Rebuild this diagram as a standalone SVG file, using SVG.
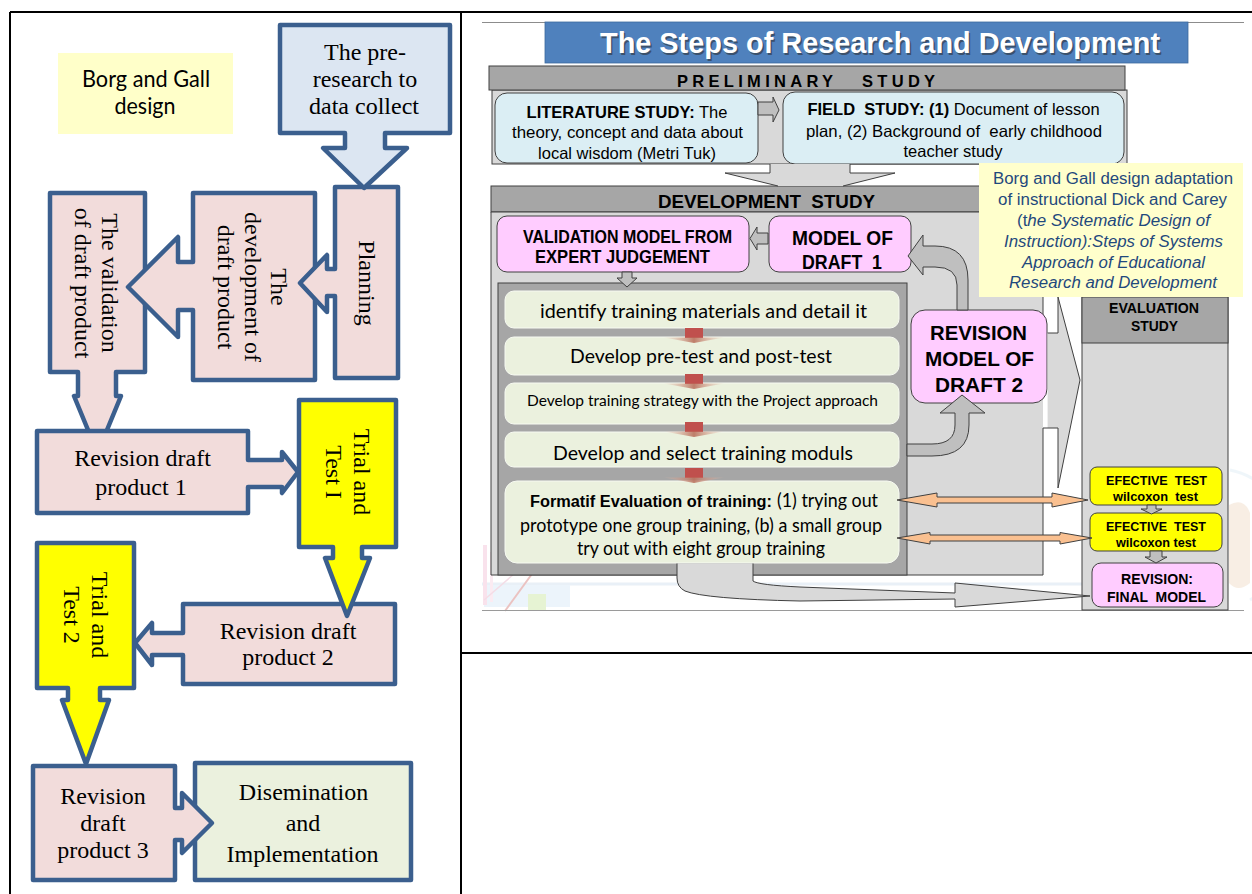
<svg xmlns="http://www.w3.org/2000/svg" width="1252" height="894" viewBox="0 0 1252 894">
<defs>
<style>
.frame{stroke:#000;stroke-width:2;fill:none}
.blk{stroke:#3b5f8e;stroke-width:4.5;stroke-linejoin:round}
.pink{fill:#f2dcdb}
.lblue{fill:#dce6f2}
.yel{fill:#ffff00}
.lgreen{fill:#ebf1de}
.tr{font-family:"Liberation Serif","Times New Roman",serif;font-size:24px;fill:#000;text-anchor:middle}
.ar{font-family:"Liberation Sans",Arial,sans-serif;fill:#000}
.b{font-weight:bold}
.i{font-style:italic}
.mid{text-anchor:middle}
.cal{font-family:Lato,"Liberation Sans",sans-serif;fill:#000}
.edge{stroke:#404040;stroke-width:1}
.g1{fill:#d9d9d9}
.g2{fill:#a6a6a6}
.g3{fill:#bfbfbf}
.pk{fill:#ffccff}
.lb{fill:#dbeef4}
.gb{fill:#ebf1de;stroke:#f7faf2;stroke-width:1}
.or{fill:#fac090;stroke:#404040;stroke-width:1}
.note{fill:#1f497d}
</style>
<linearGradient id="chev" x1="0" x2="1" y1="0" y2="0">
<stop offset="0" stop-color="#e8c2b2" stop-opacity="0.15"/>
<stop offset="0.5" stop-color="#b9705c" stop-opacity="0.9"/>
<stop offset="1" stop-color="#e8c2b2" stop-opacity="0.15"/>
</linearGradient>
<g id="drop">
<rect x="-9" y="0" width="18" height="10" fill="#c0504d"/>
<polygon points="-30,9.5 30,9.5 0,15" fill="url(#chev)"/>
</g>
</defs>

<rect width="1252" height="894" fill="#fff"/>

<!-- table frame -->
<path class="frame" d="M10,12 H1252 M10,12 V894 M461,12 V894 M461,653 H1252"/>

<!-- ================= left panel: Borg and Gall steps ================= -->
<g id="borg-gall-label">
<rect x="58" y="53" width="175" height="81" fill="#ffffc9"/>
<text class="cal mid" font-size="22.5" x="146" y="87" textLength="128" lengthAdjust="spacingAndGlyphs">Borg and Gall</text>
<text class="cal mid" font-size="22.5" x="145" y="114" textLength="61" lengthAdjust="spacingAndGlyphs">design</text>
</g>

<g id="validation">
<path class="blk pink" d="M50,193 H145 V372 H116 V396 H121 L97.5,453 L74,396 H78 V372 H50 Z"/>
<text class="tr" font-size="23" transform="translate(102,283) rotate(90)">The validation</text>
<text class="tr" font-size="23" transform="translate(75,283) rotate(90)">of draft product</text>
</g>

<g id="development">
<path class="blk pink" d="M193,193 H315 V380 H193 V310 H178 V337 L128,287 L178,237 V262 H193 Z"/>
<text class="tr" transform="translate(271,287) rotate(90)">The</text>
<text class="tr" transform="translate(244.5,287) rotate(90)">development of</text>
<text class="tr" transform="translate(218,287) rotate(90)">draft product</text>
</g>

<g id="planning">
<path class="blk pink" d="M335,187 H398 V378 H335 V296 H327 V312 L300,283 L327,255 V269 H335 Z"/>
<text class="tr" transform="translate(359,283) rotate(90)">Planning</text>
</g>

<g id="pre-research">
<path class="blk lblue" d="M280,25 H450 V133 H385 V148 H407 L364,188 L323,148 H345 V133 H280 Z"/>
<text class="tr" x="365" y="60">The pre-</text>
<text class="tr" x="365" y="87">research to</text>
<text class="tr" x="364" y="114">data collect</text>
</g>

<g id="revision-1">
<path class="blk pink" d="M37,431 H248 V460 H282 V452 L298,472 L282,493 V487 H248 V513 H37 Z"/>
<text class="tr" x="142.5" y="466">Revision draft</text>
<text class="tr" x="141" y="495">product 1</text>
</g>

<g id="revision-2">
<path class="blk pink" d="M183,604 H395 V684 H183 V655 H152 V665 L135,643 L152,623 V633 H183 Z"/>
<text class="tr" x="288" y="639">Revision draft</text>
<text class="tr" x="288" y="665">product 2</text>
</g>

<g id="trial-1">
<path class="blk yel" d="M299,400 H396 V547 H362 V558 H370 L347,616 L325,558 H333 V547 H299 Z"/>
<text class="tr" transform="translate(354,472) rotate(90)">Trial and</text>
<text class="tr" transform="translate(326,472) rotate(90)">Test I</text>
</g>

<g id="trial-2">
<path class="blk yel" d="M37,543 H134 V688 H100 V700 H109 L86,764 L62,700 H68 V688 H37 Z"/>
<text class="tr" transform="translate(92,615) rotate(90)">Trial and</text>
<text class="tr" transform="translate(64,615) rotate(90)">Test 2</text>
</g>

<g id="dissemination">
<rect class="blk lgreen" x="195" y="763" width="216" height="117"/>
<text class="tr" font-size="26.5" x="303.5" y="800">Disemination</text>
<text class="tr" font-size="26.5" x="303" y="831">and</text>
<text class="tr" font-size="26.5" x="302.5" y="862">Implementation</text>
</g>

<g id="revision-3">
<path class="blk pink" d="M33,766 H175 V808 H182 V793 L212,823 L182,853 V840 H175 V880 H33 Z"/>
<text class="tr" font-size="23.5" x="103" y="804">Revision</text>
<text class="tr" font-size="23.5" x="103" y="831">draft</text>
<text class="tr" font-size="23.5" x="103" y="858">product 3</text>
</g>

<!-- ================= right panel: steps of R&D ================= -->
<g id="backdrop" opacity="0.45">
<line x1="482" y1="584" x2="1082" y2="584" stroke="#cfe0ee" stroke-width="3"/>
<rect x="484" y="585" width="86" height="22" fill="#d6e8f7"/>
<rect x="483" y="545" width="4" height="60" fill="#f3c0d6"/>
<rect x="490" y="552" width="3" height="50" fill="#f7d3e3"/>
<rect x="528" y="594" width="18" height="16" fill="#c8e6a0"/>
<line x1="505" y1="611" x2="545" y2="556" stroke="#d47a78" stroke-width="2"/>
<line x1="484" y1="600" x2="530" y2="560" stroke="#e7b3c8" stroke-width="1.5"/>
</g>
<g id="corner-art" opacity="0.3">
<path d="M1230,470 A70,70 0 0 1 1250,600" fill="none" stroke="#cde3f1" stroke-width="3"/>
<path d="M1229,505 q15,-8 21,8 v70 q-12,10 -21,0 Z" fill="#e9c9a8"/>
</g>
<line x1="482" y1="22.5" x2="1244" y2="22.5" stroke="#8c8c8c" stroke-width="1"/>
<line x1="482" y1="610.5" x2="1244" y2="610.5" stroke="#9a9a9a" stroke-width="1"/>

<g id="title">
<rect x="545" y="22" width="643" height="41" fill="#4f81bd" stroke="#3d6a9e" stroke-width="0.8"/>
<text class="ar b mid" x="881.5" y="54.5" font-size="30" opacity="0.55" textLength="560" lengthAdjust="spacingAndGlyphs" style="fill:#2b2b2b">The Steps of Research and Development</text>
<text class="ar b mid" x="880" y="53" font-size="30" textLength="560" lengthAdjust="spacingAndGlyphs" style="fill:#fff">The Steps of Research and Development</text>
</g>

<g id="preliminary-study">
<rect class="g1 edge" x="492" y="90" width="635" height="74"/>
<rect class="g2 edge" x="489" y="66" width="636" height="24"/>
<text class="ar b" x="677" y="87" font-size="16.5" letter-spacing="4.3">PRELIMINARY</text>
<text class="ar b" x="862" y="87" font-size="16.5" letter-spacing="4.3">STUDY</text>
</g>

<g id="literature-study">
<rect class="lb edge" x="495" y="93" width="263" height="70" rx="12"/>
<text class="ar mid" x="627" y="118" font-size="16.5"><tspan class="b">LITERATURE STUDY:</tspan> The</text>
<text class="ar mid" x="627.5" y="138" font-size="16.5" textLength="231" lengthAdjust="spacingAndGlyphs">theory, concept and data about</text>
<text class="ar mid" x="627" y="159" font-size="16.5">local wisdom (Metri Tuk)</text>
</g>

<g id="field-study">
<rect class="lb edge" x="783" y="92" width="341" height="72" rx="12"/>
<text class="ar mid" x="953.5" y="115" font-size="16.5" xml:space="preserve"><tspan class="b">FIELD  STUDY: (1)</tspan> Document of lesson</text>
<text class="ar mid" x="954" y="137" font-size="16.5" xml:space="preserve" textLength="296" lengthAdjust="spacingAndGlyphs">plan, (2) Background of  early childhood</text>
<text class="ar mid" x="953" y="157" font-size="16.5">teacher study</text>
</g>

<g id="development-study">
<rect class="g2 edge" x="491" y="186" width="552" height="26"/>
<rect class="g1" x="491" y="212" width="552" height="363"/>
<path d="M1043,212 V333 M1043,428 V575 H491 V212 H1043" fill="none" stroke="#404040" stroke-width="1"/>
<text class="ar b" x="658" y="208" font-size="18" xml:space="preserve" textLength="217" lengthAdjust="spacingAndGlyphs">DEVELOPMENT  STUDY</text>
</g>

<g id="evaluation-study">
<rect class="g1 edge" x="1082" y="297" width="146" height="313"/>
<rect class="g2 edge" x="1082" y="297" width="146" height="46"/>
<text class="ar b mid" x="1154" y="313" font-size="15" textLength="90" lengthAdjust="spacingAndGlyphs">EVALUATION</text>
<text class="ar b mid" x="1154.5" y="331" font-size="15" textLength="47" lengthAdjust="spacingAndGlyphs">STUDY</text>
</g>

<g id="adaptation-note">
<rect x="979" y="163" width="264" height="134" fill="#ffffcc"/>
<text class="ar mid note" x="1113" y="184" font-size="16" textLength="240" lengthAdjust="spacingAndGlyphs">Borg and Gall design adaptation</text>
<text class="ar mid note" x="1112.5" y="205" font-size="16" textLength="229" lengthAdjust="spacingAndGlyphs">of instructional Dick and Carey</text>
<text class="ar mid note" x="1113.5" y="226" font-size="16" textLength="193" lengthAdjust="spacingAndGlyphs">(t<tspan class="i">he Systematic Design of</tspan></text>
<text class="ar mid note i" x="1113.5" y="247" font-size="16" textLength="219" lengthAdjust="spacingAndGlyphs">Instruction):Steps of Systems</text>
<text class="ar mid note i" x="1113.5" y="268" font-size="16" textLength="183" lengthAdjust="spacingAndGlyphs">Approach of Educational</text>
<text class="ar mid note i" x="1113" y="288" font-size="16" textLength="208" lengthAdjust="spacingAndGlyphs">Research and Development</text>
</g>

<g id="validation-model">
<rect class="pk edge" x="497" y="216" width="252" height="56" rx="10"/>
<text class="ar b mid" x="627.5" y="243" font-size="18" textLength="209" lengthAdjust="spacingAndGlyphs">VALIDATION MODEL FROM</text>
<text class="ar b mid" x="622.5" y="263" font-size="18" textLength="175" lengthAdjust="spacingAndGlyphs">EXPERT JUDGEMENT</text>
</g>

<g id="model-draft-1">
<rect class="pk edge" x="769" y="216" width="142" height="56" rx="10"/>
<text class="ar b mid" x="842.5" y="245" font-size="21" textLength="101" lengthAdjust="spacingAndGlyphs">MODEL OF</text>
<text class="ar b mid" x="842" y="269" font-size="21" xml:space="preserve" textLength="80" lengthAdjust="spacingAndGlyphs">DRAFT  1</text>
</g>

<g id="training-steps">
<rect class="g2 edge" x="498" y="283" width="409" height="292"/>
</g>

<g id="step-identify">
<rect class="gb" x="505" y="291" width="394" height="37" rx="9"/>
<text class="cal mid" x="703.5" y="318" font-size="20" textLength="327" lengthAdjust="spacingAndGlyphs">identify training materials and detail it</text>
</g>
<g id="step-tests">
<rect class="gb" x="505" y="337" width="394" height="38" rx="9"/>
<text class="cal mid" x="701" y="363" font-size="20" textLength="262" lengthAdjust="spacingAndGlyphs">Develop pre-test and post-test</text>
</g>
<g id="step-strategy">
<rect class="gb" x="505" y="383" width="394" height="41" rx="9"/>
<text class="cal mid" x="702.5" y="406" font-size="16" textLength="351" lengthAdjust="spacingAndGlyphs">Develop training strategy with the Project approach</text>
</g>
<g id="step-moduls">
<rect class="gb" x="505" y="432" width="394" height="35" rx="9"/>
<text class="cal mid" x="703" y="460" font-size="20" textLength="300" lengthAdjust="spacingAndGlyphs">Develop and select training moduls</text>
</g>
<g id="step-formatif">
<rect class="gb" x="505" y="481" width="394" height="82" rx="12"/>
<text class="ar b" x="530" y="507" font-size="16" textLength="242" lengthAdjust="spacingAndGlyphs">Formatif Evaluation of training:</text>
<text class="cal" x="777" y="507" font-size="18.5" textLength="101" lengthAdjust="spacingAndGlyphs">(1) trying out</text>
<text class="cal mid" x="701" y="532" font-size="18.5" textLength="362" lengthAdjust="spacingAndGlyphs">prototype one group training, (b) a small group</text>
<text class="cal mid" x="701" y="555" font-size="18.5" textLength="248" lengthAdjust="spacingAndGlyphs">try out with eight group training</text>
</g>

<g id="revision-model-draft-2">
<rect class="pk edge" x="911" y="310" width="136" height="93" rx="14"/>
<text class="ar b mid" x="978.5" y="340" font-size="21" textLength="97" lengthAdjust="spacingAndGlyphs">REVISION</text>
<text class="ar b mid" x="979.5" y="366" font-size="21" textLength="109" lengthAdjust="spacingAndGlyphs">MODEL OF</text>
<text class="ar b mid" x="979" y="392" font-size="21" textLength="88" lengthAdjust="spacingAndGlyphs">DRAFT 2</text>
</g>

<g id="effective-test-1">
<rect x="1090" y="467" width="132" height="38" rx="7" fill="#ffff00" stroke="#404040" stroke-width="1"/>
<text class="ar b mid" x="1156.5" y="485" font-size="13" xml:space="preserve" textLength="101" lengthAdjust="spacingAndGlyphs">EFECTIVE  TEST</text>
<text class="ar b mid" x="1155.5" y="501" font-size="13" xml:space="preserve" textLength="85" lengthAdjust="spacingAndGlyphs">wilcoxon  test</text>
</g>
<g id="effective-test-2">
<rect x="1090" y="513" width="132" height="38" rx="7" fill="#ffff00" stroke="#404040" stroke-width="1"/>
<text class="ar b mid" x="1156" y="531" font-size="13" xml:space="preserve" textLength="100" lengthAdjust="spacingAndGlyphs">EFECTIVE  TEST</text>
<text class="ar b mid" x="1156" y="547" font-size="13" textLength="80" lengthAdjust="spacingAndGlyphs">wilcoxon test</text>
</g>
<g id="final-model">
<rect class="pk edge" x="1092" y="563" width="131" height="44" rx="9"/>
<text class="ar b mid" x="1157" y="584" font-size="14.5" textLength="72" lengthAdjust="spacingAndGlyphs">REVISION:</text>
<text class="ar b mid" x="1156.5" y="602" font-size="14.5" xml:space="preserve" textLength="99" lengthAdjust="spacingAndGlyphs">FINAL  MODEL</text>
</g>

<!-- ================= connectors ================= -->
<g id="connectors">
<!-- preliminary to development -->
<polygon class="g1" points="770,164 770,173 725,173 778,186 843,186 895,173 850,173 850,164"/>
<polyline points="770,164 770,173 725,173 778,186" fill="none" stroke="#404040" stroke-width="1"/>
<polyline points="843,186 895,173 850,173 850,164" fill="none" stroke="#404040" stroke-width="1"/>
<!-- literature to field -->
<path class="g3 edge" d="M758,102 H773 V97 L779,110 L773,122 V115 H758 Z"/>
<!-- model of draft 1 to validation -->
<path class="g3 edge" d="M768,233 H757 V227 L750,238.5 L757,250 V244 H768 Z"/>
<!-- validation into training steps -->
<path class="g3 edge" d="M622,272 H632 V278 H637 L627,287 L617,278 H622 Z"/>
<!-- step drops -->
<use href="#drop" x="694" y="328"/>
<use href="#drop" x="694" y="374"/>
<use href="#drop" x="694" y="422"/>
<use href="#drop" x="694" y="468"/>
<!-- revision 2 back to model of draft 1 -->
<path class="g3 edge" d="M957,310 V285 Q957,267 935,267 H923 V275 L908,256 L923,235 V246 H935 Q968,246 968,280 V310 Z"/>
<!-- training moduls to revision 2 -->
<path class="g3 edge" d="M907,444 H932 Q955,444 955,425 V413 H940 L962,395 L985,413 H969 V425 Q969,456 932,456 H907 Z"/>
<!-- development to evaluation -->
<polygon class="g1" points="1047.6,333 1058,333 1058,297 1080,380 1058,488 1058,428 1047.6,428"/>
<polyline points="1047.6,333 1058,333 1058,297 1080,380 1058,488 1058,428 1043,428" fill="none" stroke="#404040" stroke-width="1"/>
<!-- formatif evaluation to effective tests -->
<path class="or" d="M897,500 L937,493 V497 H1052 V493 L1088,500 L1052,507 V503 H937 V507 Z"/>
<path class="or" d="M897,538 L930,532.5 V535 H1060 V532.5 L1092,538 L1060,544 V541 H930 V544 Z"/>
<!-- between effective tests and final model -->
<path class="g3 edge" d="M1147,505 H1156 V509 H1162 L1151.5,514 L1141,509 H1147 Z"/>
<path class="g3 edge" d="M1150,551 H1162 V557 H1167 L1156,563 L1145,557 H1150 Z"/>
<!-- formatif evaluation to final model -->
<path class="g1" d="M677,563.5 H753 V581 Q758,585 800,587 L955,593 V583 L1090,596 L955,607 V599 L800,601 Q705,599 685,591 Q677,587 677,578 Z"/>
<path d="M753,563.5 V581 Q758,585 800,587 L955,593 V583 L1090,596 L955,607 V599 L800,601 Q705,599 685,591 Q677,587 677,578 V563.5" fill="none" stroke="#404040" stroke-width="1"/>
</g>
</svg>
